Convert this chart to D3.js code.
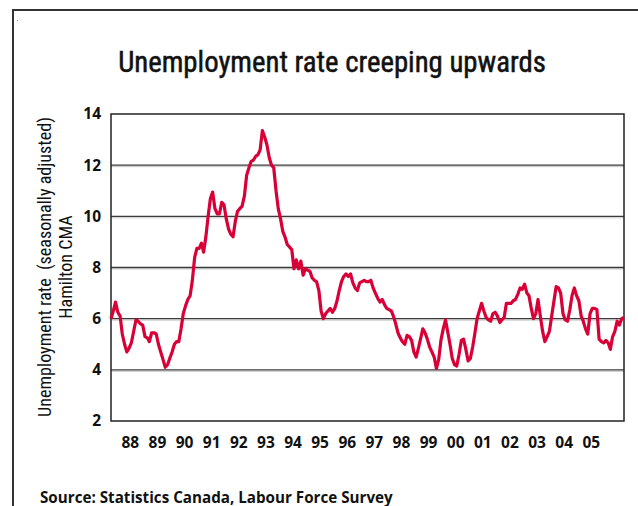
<!DOCTYPE html>
<html>
<head>
<meta charset="utf-8">
<script src="https://cdn.jsdelivr.net/npm/d3@7"></script>
<style>
  body { margin: 0; background: #fff; }
  svg { display: block; }
</style>
</head>
<body>
<svg id="chart"></svg>
<script>
// Hamilton CMA unemployment rate, monthly (first month Oct 1987)
const startMonth = new Date(1987, 9, 1);
const rates = [
  6.0, 6.3, 6.65, 6.25, 6.1, 5.4, 5.0, 4.7, 4.85, 5.05, 5.5, 5.95,
  5.9, 5.8, 5.75, 5.3, 5.25, 5.1, 5.45, 5.45, 5.4, 5.0, 4.7, 4.4,
  4.1, 4.2, 4.45, 4.7, 5.0, 5.1, 5.1, 5.6, 6.2, 6.5, 6.75, 6.9,
  7.5, 8.4, 8.75, 8.75, 8.95, 8.6, 9.2, 10.0, 10.7, 10.95, 10.3, 10.1,
  10.1, 10.55, 10.45, 9.9, 9.5, 9.3, 9.2, 9.8, 10.2, 10.3, 10.4, 10.8,
  11.6, 11.9, 12.15, 12.2, 12.35, 12.4, 12.6, 13.35, 13.1, 12.8, 12.3, 12.0,
  11.9, 11.0, 10.3, 9.9, 9.4, 9.2, 8.9, 8.8, 8.7, 7.95, 8.3, 7.95,
  8.25, 7.7, 7.95, 7.9, 7.85, 7.6, 7.5, 7.45, 7.1, 6.3, 6.0, 6.2,
  6.3, 6.4, 6.25, 6.4, 6.7, 7.1, 7.45, 7.65, 7.75, 7.65, 7.75, 7.4,
  7.2, 7.1, 7.4, 7.45, 7.5, 7.45, 7.45, 7.5, 7.2, 7.0, 6.8, 6.65,
  6.75, 6.55, 6.4, 6.35, 6.3, 6.1, 5.8, 5.45, 5.25, 5.1, 5.0, 5.35,
  5.3, 5.15, 4.7, 4.5, 4.85, 5.2, 5.6, 5.45, 5.2, 4.9, 4.7, 4.5,
  4.05, 4.4, 5.15, 5.6, 5.95, 5.5, 5.0, 4.45, 4.2, 4.15, 4.6, 5.15,
  5.2, 4.8, 4.35, 4.45, 4.9, 5.4, 6.0, 6.3, 6.6, 6.3, 6.05, 5.95,
  5.9, 6.2, 6.25, 6.1, 5.85, 5.95, 6.05, 6.6, 6.6, 6.6, 6.7, 6.75,
  6.95, 7.2, 7.15, 7.35, 7.0, 6.9, 6.4, 6.0, 6.2, 6.75, 6.1, 5.5,
  5.1, 5.3, 5.5, 6.1, 6.7, 7.25, 7.2, 7.0, 6.2, 5.95, 5.9, 6.35,
  6.9, 7.2, 6.9, 6.7, 6.1, 5.9, 5.6, 5.4, 6.2, 6.4, 6.4, 6.35,
  5.2, 5.1, 5.05, 5.15, 5.05, 4.8, 5.3, 5.5, 5.9, 5.75, 6.0, 6.05
];
const yearLabels = ['88', '89', '90', '91', '92', '93', '94', '95', '96', '97',
  '98', '99', '00', '01', '02', '03', '04', '05'];
const yTicks = [2, 4, 6, 8, 10, 12, 14];

const width = 638;
const height = 506;
const margin = { top: 114, right: 14, bottom: 85, left: 111 };
const narrow = '"Liberation Sans Narrow", "Roboto Condensed", "Liberation Sans", sans-serif';

const data = rates.map((r, i) => ({
  date: d3.timeMonth.offset(startMonth, i),
  rate: r
}));

const svg = d3.select('#chart')
  .attr('width', width)
  .attr('height', height)
  .style('font-family', '"Open Sans", "Liberation Sans", sans-serif');

// outer frame (left and top edges only)
svg.append('path')
  .attr('d', `M13,${height} V10 H${width}`)
  .attr('fill', 'none')
  .attr('stroke', '#333')
  .attr('stroke-width', 2);
svg.append('rect')
  .attr('x', 17).attr('y', 20).attr('width', 1).attr('height', 1)
  .attr('fill', '#888');

const x = d3.scaleTime()
  .domain([data[0].date, data[data.length - 1].date])
  .range([margin.left, width - margin.right]);

const y = d3.scaleLinear()
  .domain([2, 14])
  .range([height - margin.bottom, margin.top]);

// fit a text element to a measured width by scaling its font size
function fitText(sel, target) {
  const len = sel.node().getComputedTextLength();
  const fs = parseFloat(sel.attr('font-size'));
  sel.attr('font-size', fs * target / len);
}

// title
const title = svg.append('text')
  .attr('x', 332)
  .attr('y', 72)
  .attr('text-anchor', 'middle')
  .attr('font-size', 26)
  .attr('font-weight', 400)
  .attr('fill', '#111')
  .attr('stroke', '#111')
  .attr('stroke-width', 0.5)
  .style('font-family', narrow)
  .text('Unemployment rate creeping upwards');
fitText(title, 428);

// gridlines with a light shadow beneath
const grid = svg.append('g');
grid.selectAll('line.shade')
  .data(yTicks.slice(1, -1))
  .join('line')
  .attr('class', 'shade')
  .attr('x1', margin.left).attr('x2', width - margin.right)
  .attr('y1', d => y(d) + 1.5).attr('y2', d => y(d) + 1.5)
  .attr('stroke', '#c8c8c8')
  .attr('stroke-width', 1);
grid.selectAll('line.major')
  .data(yTicks.slice(1, -1))
  .join('line')
  .attr('class', 'major')
  .attr('x1', margin.left).attr('x2', width - margin.right)
  .attr('y1', d => y(d)).attr('y2', d => y(d))
  .attr('stroke', '#3a3a3a')
  .attr('stroke-width', 1.4);

// plot frame
svg.append('rect')
  .attr('x', margin.left)
  .attr('y', margin.top)
  .attr('width', width - margin.right - margin.left)
  .attr('height', height - margin.bottom - margin.top)
  .attr('fill', 'none')
  .attr('stroke', '#222')
  .attr('stroke-width', 1.5);

// y axis labels
const yAxis = svg.append('g')
  .attr('transform', `translate(${margin.left - 10},0)`)
  .call(d3.axisLeft(y).tickValues(yTicks).tickSize(0).tickPadding(0));
yAxis.select('.domain').remove();
yAxis.selectAll('text')
  .attr('font-size', 15.5)
  .attr('font-weight', 700)
  .attr('fill', '#111')
  .style('font-family', '"Open Sans", sans-serif');

// x axis labels, centred in each year
const xAxis = svg.append('g')
  .attr('transform', `translate(0,${height - margin.bottom + 27})`);
xAxis.selectAll('text')
  .data(yearLabels)
  .join('text')
  .attr('x', (d, i) => x(new Date(1988 + i, 6, 1)) - 1)
  .attr('text-anchor', 'middle')
  .attr('font-size', 15.5)
  .attr('font-weight', 700)
  .attr('fill', '#111')
  .text(d => d);

// y axis title, two lines
const yTitle = svg.append('g')
  .attr('transform', 'translate(0,267) rotate(-90)')
  .style('font-family', narrow);
const yt1 = yTitle.append('text')
  .attr('x', 0).attr('y', 51)
  .attr('text-anchor', 'middle')
  .attr('font-size', 16)
  .attr('fill', '#111')
  .attr('xml:space', 'preserve')
  .text('Unemployment rate  (seasonally adjusted)');
fitText(yt1, 300);
const yt2 = yTitle.append('text')
  .attr('x', 0).attr('y', 72)
  .attr('text-anchor', 'middle')
  .attr('font-size', parseFloat(yt1.attr('font-size')))
  .attr('fill', '#111')
  .text('Hamilton CMA');

// the series
const line = d3.line()
  .x(d => x(d.date))
  .y(d => y(d.rate));

svg.append('path')
  .datum(data)
  .attr('fill', 'none')
  .attr('stroke', '#d80036')
  .attr('stroke-width', 3.2)
  .attr('stroke-linejoin', 'round')
  .attr('d', line);

// source note
const src = svg.append('text')
  .attr('x', 40)
  .attr('y', 503)
  .attr('font-size', 12)
  .attr('font-weight', 700)
  .attr('fill', '#111')
  .text('Source: Statistics Canada, Labour Force Survey');
fitText(src, 353);
</script>
</body>
</html>
